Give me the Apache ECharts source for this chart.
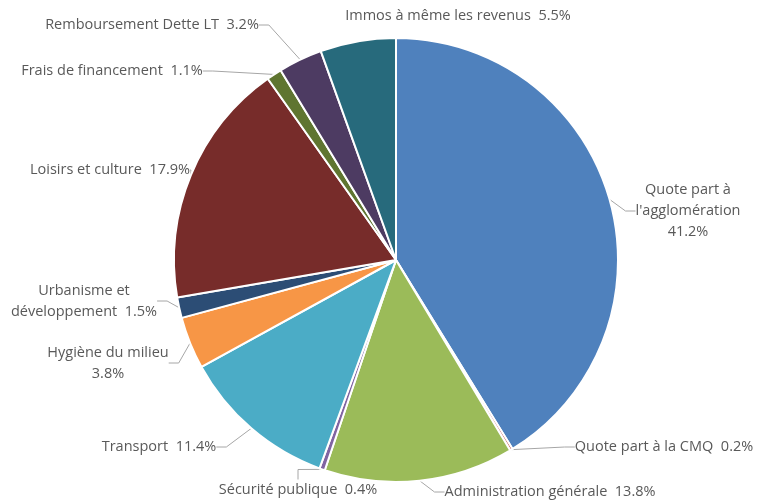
<!DOCTYPE html>
<html>
<head>
<meta charset="utf-8">
<script src="https://cdn.jsdelivr.net/npm/echarts@6/dist/echarts.min.js"></script>
<style>
  html, body { margin: 0; padding: 0; background: #fff; }
  #chart { width: 762px; height: 501px; }
</style>
</head>
<body>
<div id="chart"></div>
<script>
// catégories et parts (%)
const categories = [
  "Quote part à\nl'agglomération",
  'Quote part à la CMQ',
  'Administration générale',
  'Sécurité publique',
  'Transport',
  'Hygiène du milieu',
  'Urbanisme et\ndéveloppement',
  'Loisirs et culture',
  'Frais de financement',
  'Remboursement Dette LT',
  'Immos à même les revenus'
]
const values = [41.2, 0.2, 13.8, 0.4, 11.4, 3.8, 1.5, 17.9, 1.1, 3.2, 5.5]
const valueLabels = ['41.2%', '0.2%', '13.8%', '0.4%', '11.4%', '3.8%', '1.5%', '17.9%', '1.1%', '3.2%', '5.5%']

const colors = ['#4F81BD', '#C0504D', '#9BBB59', '#8064A2', '#4BACC6', '#F79646',
  '#2C4D75', '#772C2A', '#5F7530', '#4D3B62', '#276A7C']

// position des étiquettes (x, y, alignement)
const labelPos = [
  [688, 211, 'center'],
  [664, 447, 'center'],
  [550, 492, 'center'],
  [298, 490, 'center'],
  [159, 447, 'center'],
  [108, 363, 'center'],
  [84, 301, 'center'],
  [110, 170, 'center'],
  [112, 71, 'center'],
  [152, 25, 'center'],
  [458, 16, 'center']
]

// texte des étiquettes
const labelText = (i) => {
  const name = categories[i]
  const v = valueLabels[i]
  if (i === 0) return name + '\n' + v
  if (i === 5) return name + '\n' + v
  return name + '  ' + v
}

const chart = echarts.init(document.getElementById('chart'))
chart.setOption({
  animation: false,
  color: colors,
  series: [
    {
      type: 'pie',
      center: [396, 260],
      radius: 222,
      startAngle: 90,
      clockwise: true,
      avoidLabelOverlap: false,
      itemStyle: { borderColor: '#fff', borderWidth: 2 },
      label: {
        show: true,
        position: 'outside',
        color: '#595959',
        fontFamily: 'Open Sans',
        fontSize: 14.5,
        lineHeight: 21,
        formatter: (p) => labelText(p.dataIndex)
      },
      labelLine: {
        show: true,
        length: 10,
        length2: 10,
        lineStyle: { color: '#A6A6A6', width: 1 }
      },
      labelLayout: (p) => {
        const pos = labelPos[p.dataIndex]
        return { x: pos[0], y: pos[1], align: pos[2], verticalAlign: 'middle' }
      },
      // pas de trait de rappel pour la dernière étiquette (juste au-dessus)
      data: values.map((v, i) => ({
        name: categories[i],
        value: v,
        labelLine: { show: i !== values.length - 1 }
      }))
    }
  ]
})
</script>
</body>
</html>
